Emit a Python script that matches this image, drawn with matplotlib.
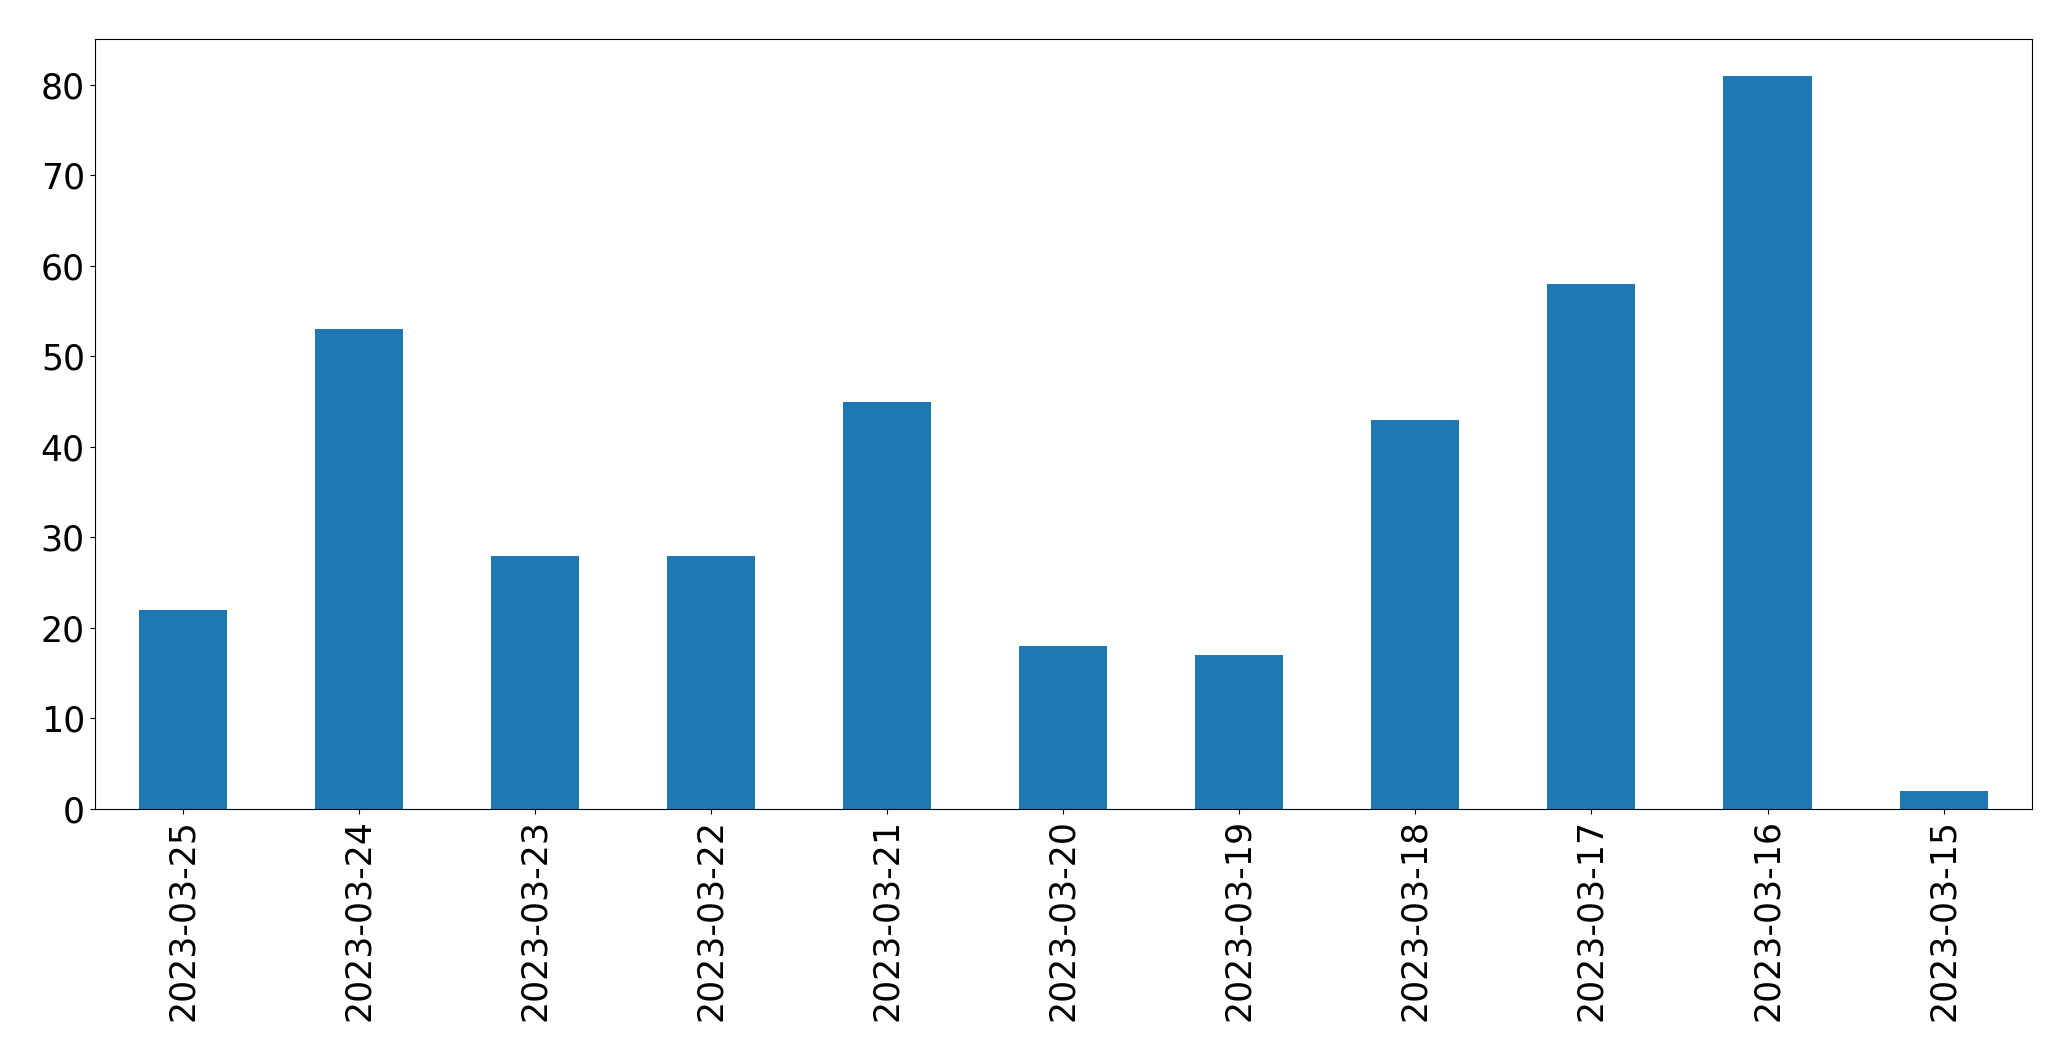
import matplotlib
matplotlib.use("Agg")
import matplotlib.pyplot as plt
import pandas as pd

# counts per day, newest first
dates = ['2023-03-25', '2023-03-24', '2023-03-23', '2023-03-22', '2023-03-21',
         '2023-03-20', '2023-03-19', '2023-03-18', '2023-03-17', '2023-03-16',
         '2023-03-15']
counts = [22, 53, 28, 28, 45, 18, 17, 43, 58, 81, 2]

series = pd.Series(counts, index=dates)

fig, ax = plt.subplots(figsize=(20.71, 10.61), dpi=100)
series.plot(kind='bar', ax=ax, color='#1f77b4', width=0.5)
ax.tick_params(axis='both', labelsize=25)
ax.set_xticklabels(dates, rotation=90)

fig.subplots_adjust(left=0.0457, right=0.981, bottom=0.2375, top=0.9632)
fig.savefig('out.png', dpi=100)
